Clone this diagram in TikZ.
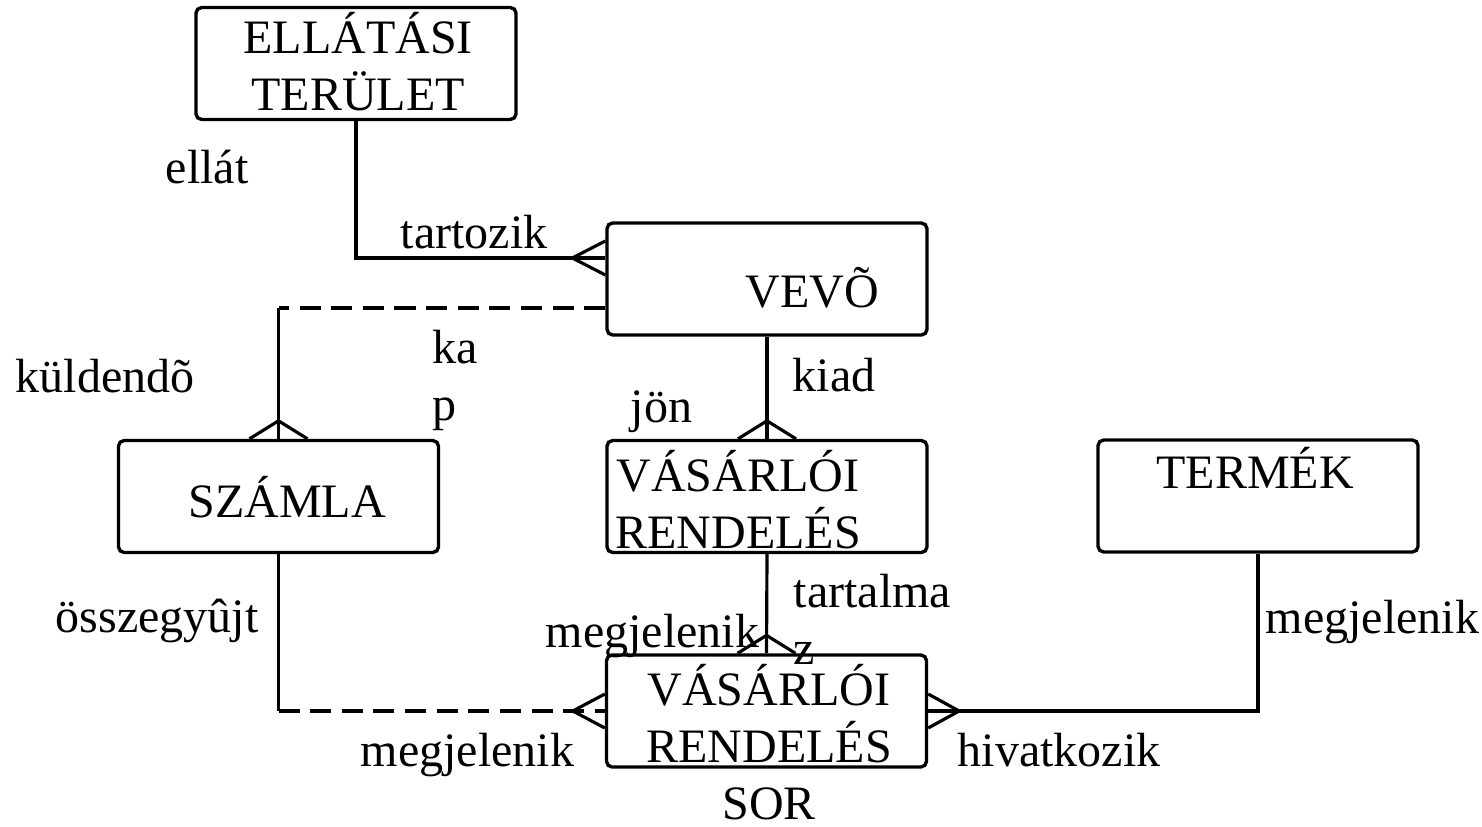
\documentclass[tikz,border=0pt]{standalone}
\usepackage{fontspec}
\setmainfont{Liberation Serif}
\usetikzlibrary{calc}

\tikzset{
  entity/.style={rectangle, rounded corners=1.6pt, draw, line width=0.95pt,
    minimum width=3.2cm, minimum height=1.12cm, inner sep=0pt},
  ename/.style={anchor=base, align=center, inner sep=0pt, font=\fontsize{13.66pt}{16.2pt}\selectfont},
  rel/.style={anchor=base west, align=left, inner sep=0pt, font=\fontsize{13.66pt}{16.2pt}\selectfont},
  conn/.style={line width=0.9pt},
  opt/.style={conn, dash pattern=on 6pt off 3pt}
}

\begin{document}
\begin{tikzpicture}
    \useasboundingbox (0,0) rectangle (14.82,-8.26);

    \node[entity] (ellatas) at (3.56,-0.635) {};
    \node[entity] (vevo) at (7.67,-2.79) {};
    \node[entity] (szamla) at (2.785,-4.965) {};
    \node[entity] (rendeles) at (7.67,-4.965) {};
    \node[entity] (termek) at (12.58,-4.96) {};
    \node[entity] (sor) at (7.665,-7.11) {};

    \node[ename] (ellatas-t) at (3.58,-1.10) {ELLÁTÁSI\\TERÜLET};
    \node[ename] (vevo-t) at (8.12,-3.07) {VEVÕ};
    \node[ename] (szamla-t) at (2.87,-5.17) {SZÁMLA};
    \node[ename] (rendeles-t) at (7.38,-5.48) {VÁSÁRLÓI\\RENDELÉS};
    \node[ename] (termek-t) at (12.55,-4.88) {TERMÉK};
    \node[ename] (sor-t) at (7.69,-8.19) {VÁSÁRLÓI\\RENDELÉS\\SOR};

    \coordinate (tart) at ($(vevo.west)+(0,0.21)$);
    \coordinate (kap) at ($(vevo.west)+(0,-0.29)$);

    \draw[conn] (ellatas.south) |- (tart);
    \draw[conn] ($(tart)+(0,0.17)$) -- ++(-0.33,-0.17) -- ++(0.33,-0.17);

    \draw[opt] (kap) -- (szamla.north |- kap);
    \draw[conn] (szamla.north |- kap) -- (szamla.north);
    \draw[conn] ($(szamla.north)+(-0.29,0)$) -- ++(0.29,0.18) -- ++(0.29,-0.18);

    \draw[conn] (vevo.south) -- (rendeles.north);
    \draw[conn] ($(rendeles.north)+(-0.29,0)$) -- ++(0.29,0.18) -- ++(0.29,-0.18);

    \draw[conn] (rendeles.south) -- (sor.north);
    \draw[conn] ($(sor.north)+(-0.29,0)$) -- ++(0.29,0.18) -- ++(0.29,-0.18);

    \draw[conn] (szamla.south) -- (szamla.south |- sor.west);
    \draw[opt] (szamla.south |- sor.west) -- (sor.west);
    \draw[conn] ($(sor.west)+(0,0.17)$) -- ++(-0.32,-0.17) -- ++(0.32,-0.17);

    \draw[conn] (termek.south) |- (sor.east);
    \draw[conn] ($(sor.east)+(0,0.17)$) -- ++(0.31,-0.17) -- ++(-0.31,-0.17);

    \node[rel] (ellat) at (1.65,-1.83) {ellát};
    \node[rel] (tartozik) at (4.00,-2.48) {tartozik};
    \node[rel] (kuldendo) at (0.15,-3.92) {küldendõ};
    \node[rel] (kapja) at (4.32,-4.20) {ka\\p};
    \node[rel] (jon) at (6.30,-4.22) {jön};
    \node[rel] (kiad) at (7.92,-3.91) {kiad};
    \node[rel] (tartalmaz) at (7.93,-6.64) {tartalma\\z};
    \node[rel] (megj-a) at (5.45,-6.47) {megjelenik};
    \node[rel] (osszegyujt) at (0.55,-6.32) {összegyûjt};
    \node[rel] (megj-b) at (3.60,-7.66) {megjelenik};
    \node[rel] (hivatkozik) at (9.57,-7.66) {hivatkozik};
    \node[rel] (megj-c) at (12.65,-6.33) {megjelenik};
\end{tikzpicture}
\end{document}
